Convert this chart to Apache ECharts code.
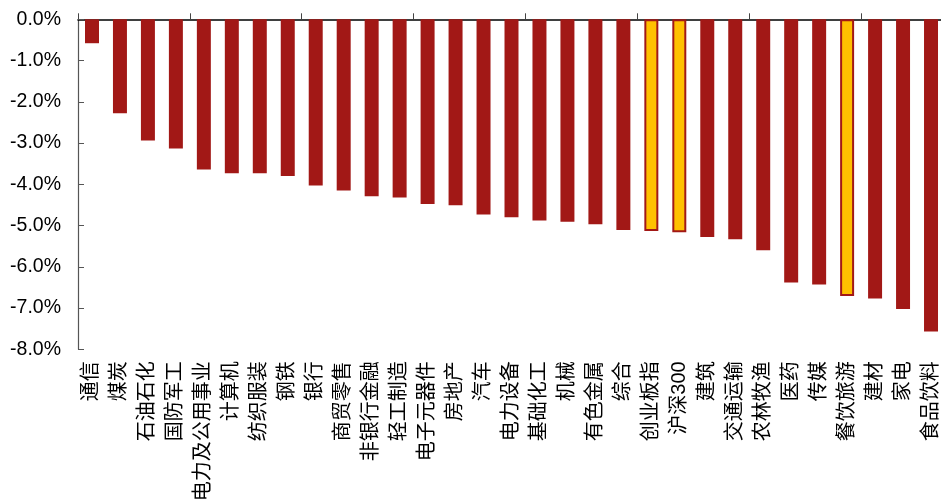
<!DOCTYPE html>
<html>
<head>
<meta charset="utf-8">
<script src="https://cdn.jsdelivr.net/npm/echarts@6/dist/echarts.min.js"></script>
<style>
html,body{margin:0;padding:0;background:#fff;}
#chart{width:941px;height:500px;}
</style>
</head>
<body>
<div id="chart"></div>
<script>
const categories = ['通信','煤炭','石油石化','国防军工','电力及公用事业','计算机','纺织服装','钢铁','银行','商贸零售','非银行金融','轻工制造','电子元器件','房地产','汽车','电力设备','基础化工','机械','有色金属','综合','创业板指','沪深300','建筑','交通运输','农林牧渔','医药','传媒','餐饮旅游','建材','家电','食品饮料'];
const values = [-0.58,-2.28,-2.94,-3.13,-3.64,-3.73,-3.73,-3.80,-4.03,-4.15,-4.29,-4.32,-4.48,-4.51,-4.73,-4.80,-4.88,-4.91,-4.97,-5.11,-5.13,-5.16,-5.28,-5.33,-5.60,-6.38,-6.43,-6.71,-6.77,-7.02,-7.57];
const highlighted = ['创业板指','沪深300','餐饮旅游'];
const yTicks = {min:-8, max:0, interval:1};

const RED = '#A21816';
const YELLOW = '#FFC000';
const FONT = '"Liberation Sans", Arial, "Noto Sans CJK SC", sans-serif';

const barData = values.map((v, i) => {
  const hl = highlighted.includes(categories[i]);
  return {
    value: v,
    itemStyle: hl ? {color: YELLOW, borderColor: RED, borderWidth: 2} : {color: RED}
  };
});

const chart = echarts.init(document.getElementById('chart'), null, {renderer: 'canvas'});
chart.setOption({
  animation: false,
  backgroundColor: '#fff',
  grid: {left: 78, top: 19.3, height: 330, right: -4, containLabel: false, outerBoundsMode: 'none'},
  xAxis: [
    {
      type: 'category', data: categories, position: 'top', boundaryGap: true,
      axisLine: {show: true, onZero: false, lineStyle: {color: '#000', width: 1.5}},
      axisTick: {show: true, inside: false, length: 6, alignWithLabel: false, lineStyle: {color: '#444', width: 1}},
      axisLabel: {show: false}
    },
    {
      type: 'category', data: categories, position: 'bottom', boundaryGap: true,
      axisLine: {show: false},
      axisTick: {show: false},
      axisLabel: {
        show: true, interval: 0, rotate: 90, margin: 12,
        fontSize: 20, color: '#000', fontFamily: FONT,
        padding: [8, 0, 0, 0], hideOverlap: false
      }
    }
  ],
  yAxis: {
    type: 'value', min: yTicks.min, max: yTicks.max, interval: yTicks.interval,
    axisLine: {show: true, lineStyle: {color: '#555', width: 1.2}},
    axisTick: {show: true, inside: true, length: 6, lineStyle: {color: '#555'}},
    splitLine: {show: false},
    axisLabel: {
      margin: 17, fontSize: 19.5, color: '#000', fontFamily: FONT,
      formatter: v => v.toFixed(1) + '%'
    }
  },
  series: [{
    type: 'bar', xAxisIndex: 1, data: barData, barWidth: '50%'
  }]
});
</script>
</body>
</html>
